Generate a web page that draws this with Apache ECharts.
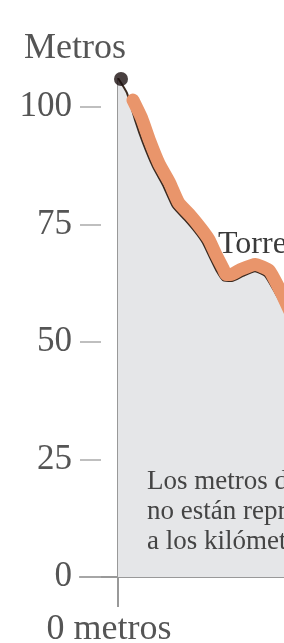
<!DOCTYPE html>
<html>
<head>
<meta charset="utf-8">
<script src="https://cdn.jsdelivr.net/npm/echarts@6/dist/echarts.min.js"></script>
<style>
  html, body { margin: 0; padding: 0; background: #fff; }
  #chart { width: 284px; height: 643px; }
</style>
</head>
<body>
<div id="chart"></div>
<script>
// perfil: distancia (m) y altura (m)
const profileX = [0, 45, 85, 125, 175, 225, 275, 335, 385, 425, 460, 495, 525, 570, 625, 685, 735, 785, 830]
const profileY = [106.2, 103, 97.3, 92.4, 87.3, 83.4, 78.8, 76, 73.5, 71.1, 68, 65, 63.2, 63, 64.1, 65.1, 64.1, 60.6, 57.1]

// tramo destacado (naranja)
const routeX = [75, 118, 158, 206, 256, 304, 361, 413, 455, 491, 525, 541, 565, 611, 686, 757, 813, 860]
const routeY = [101.5, 97.7, 92.9, 87.9, 84.1, 79.6, 77, 74.3, 71.8, 68.5, 65.7, 64.4, 64.4, 65.4, 66.5, 65.2, 60.8, 56.5]

const startPoint = [15, 106]

const yTicks = [0, 25, 50, 75, 100]
const xTicks = [0]

const serif = '"Liberation Serif", "DejaVu Serif", serif'

const chart = echarts.init(document.getElementById('chart'))

const zip = (xs, ys) => xs.map((x, i) => [x, ys[i]])

chart.setOption({
  animation: false,
  title: {
    text: 'Metros',
    left: 19,
    top: 26,
    textStyle: { fontFamily: serif, fontSize: 36, fontWeight: 'normal', color: '#555' }
  },
  grid: { left: 80, right: 0, top: 79, bottom: 66, outerBoundsMode: 'none' },
  xAxis: {
    type: 'value',
    min: -190,
    max: 830,
    axisLine: { show: true, onZero: false, lineStyle: { color: '#999', width: 2 } },
    axisTick: { show: true, customValues: xTicks, length: 30, lineStyle: { color: '#999', width: 2 } },
    axisLabel: {
      customValues: xTicks,
      formatter: () => '0 metros',
      margin: 35,
      padding: [0, 18, 0, 0],
      fontFamily: serif,
      fontSize: 36,
      color: '#555'
    },
    splitLine: { show: false }
  },
  yAxis: [
    {
      // línea vertical en el origen
      type: 'value',
      min: 0,
      max: 106,
      axisLine: { show: true, onZero: true, lineStyle: { color: '#999', width: 2 } },
      axisTick: { show: false },
      axisLabel: { show: false },
      splitLine: { show: false }
    },
    {
      // etiquetas y guiones a la izquierda
      type: 'value',
      position: 'left',
      min: 0,
      max: 106,
      axisLine: { show: false, onZero: false },
      axisTick: { show: true, inside: true, length: 21, customValues: yTicks, lineStyle: { color: '#aaa', width: 1.5 } },
      axisLabel: { customValues: yTicks, margin: 8, fontFamily: serif, fontSize: 35, color: '#555' },
      splitLine: { show: false }
    }
  ],
  series: [
    {
      type: 'line',
      data: zip(profileX, profileY),
      symbol: 'none',
      smooth: 0.15,
      lineStyle: { color: '#3b2a20', width: 2 },
      areaStyle: { color: '#e5e6e8', opacity: 1, origin: 'start' },
      z: 2
    },
    {
      type: 'line',
      data: zip(routeX, routeY),
      symbol: 'none',
      smooth: 0.15,
      lineStyle: { color: '#e9956b', width: 13, cap: 'round', join: 'round' },
      z: 3
    },
    {
      type: 'scatter',
      data: [startPoint],
      symbolSize: 14,
      itemStyle: { color: '#1c1010' },
      z: 5
    }
  ],
  graphic: [
    {
      type: 'text',
      left: 218,
      top: 229,
      z: 10,
      style: { text: 'Torre', font: '32px ' + serif, fill: '#3a3a3a' }
    },
    {
      type: 'text',
      left: 147,
      top: 467,
      z: 10,
      style: {
        text: 'Los metros de desnivel\nno están representados\na los kilómetros',
        font: '27px ' + serif,
        lineHeight: 30,
        fill: '#444'
      }
    }
  ]
})
</script>
</body>
</html>
